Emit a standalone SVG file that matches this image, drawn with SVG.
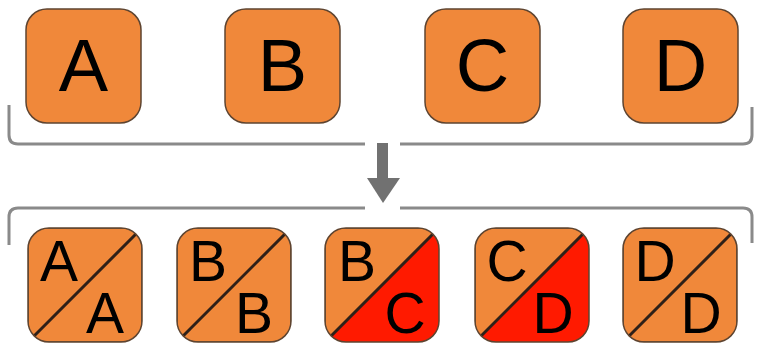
<svg xmlns="http://www.w3.org/2000/svg" width="757" height="349" viewBox="0 0 757 349">
<style>
.box{fill:#F0883A;stroke:#5e4430;stroke-width:1.5}
.red{fill:#FF1A00}
.diag{stroke:#2e2018;stroke-width:3}
.big{font-family:"Liberation Sans",Arial,sans-serif;font-size:74px;fill:#000;text-anchor:middle}
.sm{font-family:"Liberation Sans",Arial,sans-serif;font-size:57px;fill:#000;text-anchor:middle}
.br{fill:none;stroke:#8a8a8a;stroke-width:3}
.arr{fill:#717171}
</style>
<defs>
<clipPath id="cp"><rect x="0" y="0" width="114" height="114" rx="21"/></clipPath>
</defs>
<g id="top-A"><rect class="box" x="26" y="9" width="115" height="114" rx="21"/><text class="big" x="83.5" y="91">A</text></g>
<g id="top-B"><rect class="box" x="225" y="9" width="115" height="114" rx="21"/><text class="big" x="282.5" y="91">B</text></g>
<g id="top-C"><rect class="box" x="425" y="9" width="115" height="114" rx="21"/><text class="big" x="482.5" y="91">C</text></g>
<g id="top-D"><rect class="box" x="623" y="9" width="115" height="114" rx="21"/><text class="big" x="680.5" y="91">D</text></g>
<g id="connectors">
<path class="br" d="M9,105 V135 Q9,144 18,144 H365 M400,144 H743 Q752,144 752,135 V107"/>
<path class="br" d="M9,245 V217 Q9,208 18,208 H365 M400,208 H743 Q752,208 752,217 V243"/>
<rect class="arr" x="377" y="143" width="11" height="36"/>
<polygon class="arr" points="367,178 400,178 383,203"/>
</g>
<g id="AA" transform="translate(28,228)"><g clip-path="url(#cp)"><rect class="box" x="0" y="0" width="114" height="114"/><line class="diag" x1="0" y1="114" x2="114" y2="0"/></g><rect x="0" y="0" width="114" height="114" rx="21" fill="none" stroke="#5e4430" stroke-width="1.5"/><text class="sm" x="31" y="53">A</text><text class="sm" x="77" y="105">A</text></g>
<g id="BB" transform="translate(177,228)"><g clip-path="url(#cp)"><rect class="box" x="0" y="0" width="114" height="114"/><line class="diag" x1="0" y1="114" x2="114" y2="0"/></g><rect x="0" y="0" width="114" height="114" rx="21" fill="none" stroke="#5e4430" stroke-width="1.5"/><text class="sm" x="31" y="53">B</text><text class="sm" x="77" y="105">B</text></g>
<g id="BC" transform="translate(325,228)"><g clip-path="url(#cp)"><rect class="box" x="0" y="0" width="114" height="114"/><polygon class="red" points="0,114 114,0 114,114"/><line class="diag" x1="0" y1="114" x2="114" y2="0"/></g><rect x="0" y="0" width="114" height="114" rx="21" fill="none" stroke="#5e4430" stroke-width="1.5"/><text class="sm" x="32" y="53">B</text><text class="sm" x="80" y="105">C</text></g>
<g id="CD" transform="translate(475,228)"><g clip-path="url(#cp)"><rect class="box" x="0" y="0" width="114" height="114"/><polygon class="red" points="0,114 114,0 114,114"/><line class="diag" x1="0" y1="114" x2="114" y2="0"/></g><rect x="0" y="0" width="114" height="114" rx="21" fill="none" stroke="#5e4430" stroke-width="1.5"/><text class="sm" x="32" y="53">C</text><text class="sm" x="78" y="105">D</text></g>
<g id="DD" transform="translate(623,228)"><g clip-path="url(#cp)"><rect class="box" x="0" y="0" width="114" height="114"/><line class="diag" x1="0" y1="114" x2="114" y2="0"/></g><rect x="0" y="0" width="114" height="114" rx="21" fill="none" stroke="#5e4430" stroke-width="1.5"/><text class="sm" x="32" y="53">D</text><text class="sm" x="78" y="105">D</text></g>
</svg>
